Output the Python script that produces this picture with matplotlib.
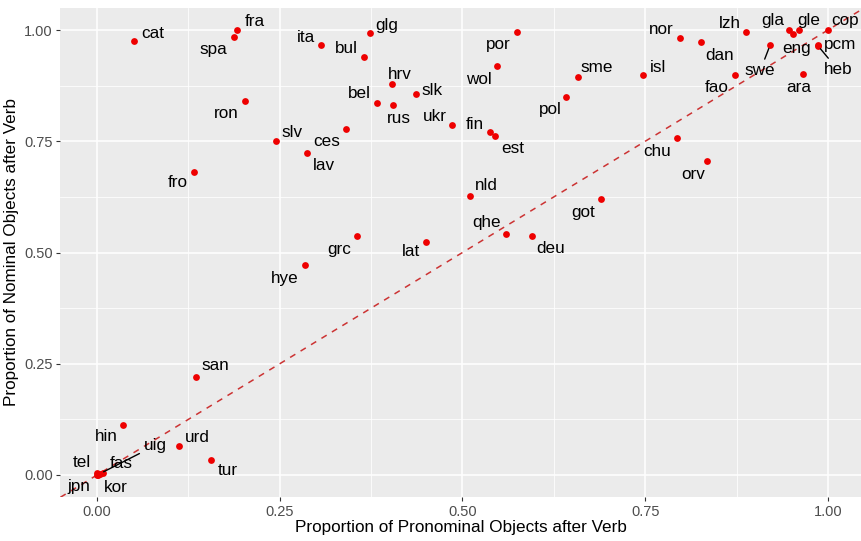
import matplotlib
matplotlib.use("Agg")
import matplotlib.pyplot as plt
from matplotlib.ticker import MultipleLocator

plt.rcParams['font.family'] = ['Liberation Sans', 'DejaVu Sans']

# data: language codes, proportion of pronominal / nominal objects after verb
langs = ["cat", "fra", "spa", "ita", "glg", "bul", "hrv", "slk", "bel", "rus",
         "ukr", "ron", "ces", "slv", "lav", "fro", "por", "wol", "sme", "pol",
         "isl", "fin", "est", "nor", "dan", "lzh", "swe", "gla", "eng", "gle",
         "cop", "pcm", "heb", "fao", "ara", "chu", "orv", "nld", "got", "qhe",
         "deu", "grc", "lat", "hye", "san", "hin", "urd", "tur", "uig", "tel",
         "fas", "jpn", "kor"]
pron_after = [0.051, 0.192, 0.187, 0.306, 0.373, 0.365, 0.404, 0.437, 0.383, 0.405,
              0.486, 0.202, 0.340, 0.245, 0.287, 0.133, 0.574, 0.547, 0.658, 0.642,
              0.747, 0.537, 0.544, 0.797, 0.826, 0.888, 0.921, 0.947, 0.952, 0.960,
              1.000, 0.987, 0.986, 0.873, 0.966, 0.793, 0.834, 0.510, 0.689, 0.559,
              0.595, 0.355, 0.450, 0.284, 0.136, 0.035, 0.112, 0.156, 0.004, 0.000,
              0.008, 0.000, 0.002]
nom_after = [0.975, 1.000, 0.985, 0.966, 0.993, 0.940, 0.878, 0.857, 0.836, 0.831,
             0.786, 0.840, 0.778, 0.750, 0.724, 0.681, 0.996, 0.918, 0.894, 0.849,
             0.900, 0.771, 0.761, 0.981, 0.972, 0.995, 0.967, 1.000, 0.992, 1.000,
             1.000, 0.966, 0.965, 0.900, 0.902, 0.757, 0.705, 0.628, 0.620, 0.542,
             0.538, 0.536, 0.523, 0.471, 0.221, 0.112, 0.065, 0.034, 0.003, 0.005,
             0.005, 0.000, 0.000]

# label placement (pixel offsets from the point, like ggrepel put them)
label_offsets = {
    "cat": (18, -8), "fra": (17, -8), "spa": (-20, 13), "ita": (-15, -8),
    "glg": (17, -8), "bul": (-17, -8), "hrv": (7, -10), "slk": (16, -3),
    "bel": (-18, -9), "rus": (6, 13), "ukr": (-17, -9), "ron": (-18, 12),
    "ces": (-19, 13), "slv": (16, -9), "lav": (17, 13), "fro": (-16, 11),
    "por": (-18, 13), "wol": (-18, 13), "sme": (19, -10), "pol": (-16, 12),
    "isl": (15, -7), "fin": (-15, -7), "est": (18, 12), "nor": (-18, -9),
    "dan": (19, 13), "lzh": (-16, -9), "swe": (-10, 26), "gla": (-17, -9),
    "eng": (4, 15), "gle": (10, -9), "cop": (17, -9), "pcm": (22, -1),
    "heb": (20, 24), "fao": (-18, 13), "ara": (-4, 14), "chu": (-20, 13),
    "orv": (-13, 13), "nld": (17, -10), "got": (-18, 13), "qhe": (-19, -11),
    "deu": (19, 13), "grc": (-17, 13), "lat": (-15, 9), "hye": (-20, 13),
    "san": (19, -11), "hin": (-16, 11), "urd": (18, -9), "tur": (17, 11),
    "uig": (55, -28), "tel": (-15, -10), "fas": (18, -9), "jpn": (-18, 12),
    "kor": (17, 12),
}
with_segment = {"swe", "heb", "uig"}

W, H = 861, 541
fig = plt.figure(figsize=(W / 100, H / 100), dpi=100)
x0, x1 = 97, 828          # pixel position of x = 0 and x = 1
y0, y1 = 475, 30          # pixel position of y = 0 and y = 1
xu, yu = x1 - x0, y0 - y1
left = x0 - 0.05 * xu
top = y1 - 0.05 * yu
bottom = y0 + 0.05 * yu
ax = fig.add_axes([left / W, 1 - bottom / H, (W - left) / W, (bottom - top) / H])
ax.set_xlim(-0.05, (W - x0) / xu)
ax.set_ylim(-0.05, 1.05)

ax.set_facecolor("#EBEBEB")
for s in ax.spines.values():
    s.set_visible(False)
ax.xaxis.set_major_locator(MultipleLocator(0.25))
ax.yaxis.set_major_locator(MultipleLocator(0.25))
ax.xaxis.set_minor_locator(MultipleLocator(0.125))
ax.yaxis.set_minor_locator(MultipleLocator(0.125))
ax.grid(which="major", color="white", lw=1.1)
ax.grid(which="minor", color="white", lw=0.55)
ax.set_axisbelow(True)
ax.tick_params(which="major", length=3, width=0.8, color="#333333",
               labelsize=10.5, labelcolor="#4D4D4D", pad=2.5)
ax.tick_params(which="minor", length=0)
ax.xaxis.set_major_formatter(lambda v, p: f"{v:.2f}")
ax.yaxis.set_major_formatter(lambda v, p: f"{v:.2f}")

ax.axline((0, 0), (1, 1), color="#CC3333", lw=1.1, ls=(0, (4, 4)), zorder=2)
ax.scatter(pron_after, nom_after, s=24, color="#EE0000", zorder=3, linewidths=0)

for lab, x, y in zip(langs, pron_after, nom_after):
    dx, dy = label_offsets[lab]
    kw = {}
    if lab in with_segment:
        kw["arrowprops"] = dict(arrowstyle="-", color="black", lw=1.0,
                                shrinkA=1, shrinkB=3)
    ax.annotate(lab, (x, y), xytext=(dx, -dy), textcoords="offset pixels",
                ha="center", va="center", fontsize=12.3, color="black",
                zorder=4, annotation_clip=False, **kw)

ax.set_xlabel("Proportion of Pronominal Objects after Verb", fontsize=12.3, labelpad=1)
ax.set_ylabel("Proportion of Nominal Objects after Verb", fontsize=12.3, labelpad=4)

fig.savefig("out.png", dpi=100)
